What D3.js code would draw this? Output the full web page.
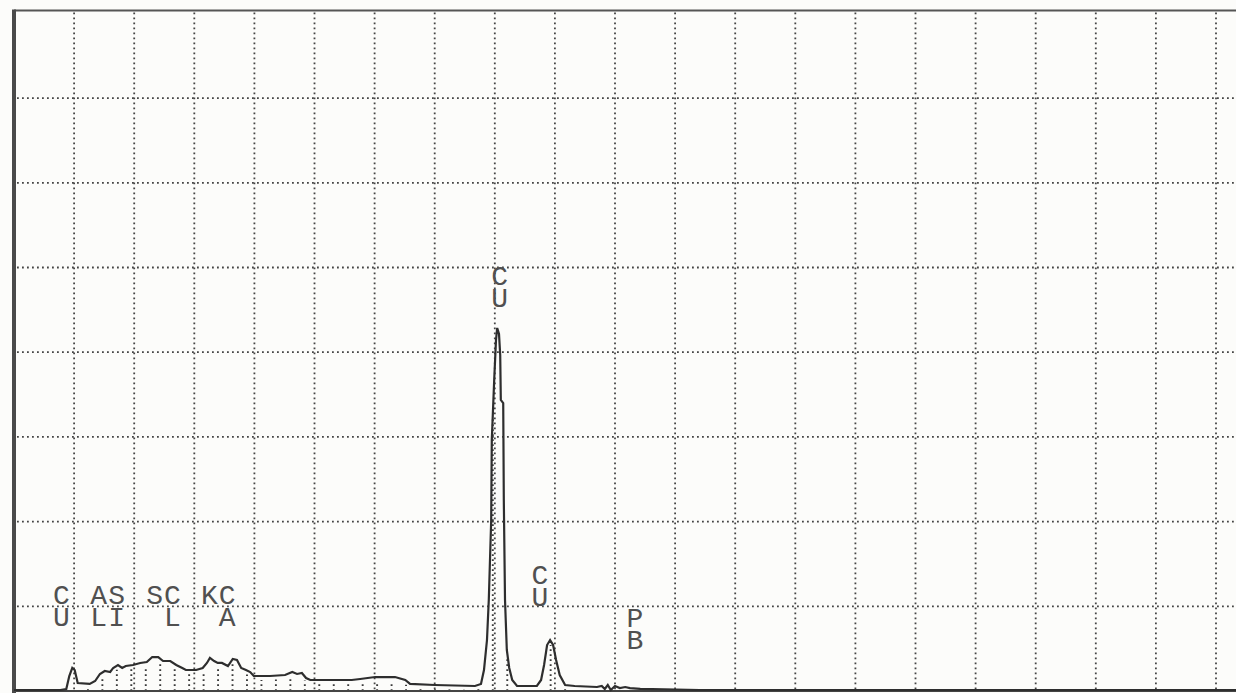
<!DOCTYPE html>
<html>
<head>
<meta charset="utf-8">
<script src="https://cdn.jsdelivr.net/npm/d3@7"></script>
<style>
    html, body { margin: 0; padding: 0; background: #fcfcfa; }
    svg { display: block; }
    .peak-label {
        font-family: "Liberation Mono", "DejaVu Sans Mono", monospace;
        font-size: 28px;
        fill: #505050;
        white-space: pre;
        letter-spacing: 1px;
    }
</style>
</head>
<body>
<div id="chart"></div>
<script>
// spectrum, keV vs counts
const energy = [0, 0.77, 0.87, 0.92, 0.97, 1.01, 1.06, 1.26, 1.35, 1.43, 1.51, 1.60, 1.65, 1.73, 1.80, 1.86,
    1.98, 2.10, 2.21, 2.30, 2.40, 2.48, 2.60, 2.70, 2.80, 2.86, 3.03, 3.14, 3.21, 3.26, 3.33, 3.39, 3.46,
    3.56, 3.64, 3.71, 3.78, 3.86, 3.93, 3.99, 4.26, 4.51, 4.63, 4.71, 4.79, 4.86, 4.93, 5.62, 5.76, 6.01,
    6.34, 6.51, 6.59, 7.00, 7.67, 7.77, 7.82, 7.87, 7.90, 7.94, 7.95, 7.99, 8.02, 8.04, 8.07, 8.09, 8.10,
    8.14, 8.15, 8.17, 8.20, 8.24, 8.29, 8.37, 8.70, 8.77, 8.82, 8.87, 8.92, 8.97, 9.02, 9.08, 9.17, 9.33,
    9.70, 9.78, 9.83, 9.88, 9.93, 10.00, 10.08, 10.17, 10.25, 10.42, 11.41, 21];
const counts = [12, 12, 24, 177, 272, 248, 94, 83, 118, 201, 236, 224, 272, 307, 272, 295,
    307, 331, 342, 401, 401, 354, 354, 307, 272, 248, 248, 272, 331, 390, 354, 331, 331,
    295, 378, 366, 272, 248, 224, 177, 177, 189, 224, 201, 213, 153, 130, 130, 142, 165,
    165, 130, 83, 71, 59, 83, 248, 602, 1074, 2019, 2963, 3672, 4144, 4286, 4215, 3967, 3436,
    3400, 2255, 1074, 484, 272, 130, 59, 59, 130, 307, 543, 602, 543, 366, 189, 71, 59,
    47, 59, 24, 71, 12, 59, 35, 47, 35, 24, 12, 12];

// element markers
const labelEnergy = [0.65, 1.27, 2.20, 3.11, 7.94, 8.61, 10.19];
const labelLevel = [1027, 1027, 1027, 1027, 4790, 1263, 756];
const labelTop = ["C", "AS", "SC", "KC", "C", "C", "P"];
const labelBottom = ["U", "LI", " L", " A", "U", "U", "B"];

// grid
const xTicks = d3.range(1, 21);
const yTicks = [1000, 2000, 3000, 4000, 5000, 6000, 7000];

document.addEventListener('DOMContentLoaded', function () {
    const width = 1236;
    const height = 693;
    const margin = { top: 10.5, left: 14, bottom: 691 };

    const svg = d3.select("#chart")
        .append("svg")
        .attr("width", width)
        .attr("height", height);

    const x = d3.scaleLinear()
        .domain([0, 21])
        .range([margin.left, margin.left + 21 * 60.1]);

    const y = d3.scaleLinear()
        .domain([0, 8000])
        .range([margin.bottom, margin.bottom - 8 * 84.7]);

    // dotted grid
    svg.append("g")
        .selectAll("line")
        .data(xTicks)
        .enter().append("line")
        .attr("x1", d => x(d))
        .attr("x2", d => x(d))
        .attr("y1", margin.top + 2)
        .attr("y2", margin.bottom)
        .attr("stroke", "#444")
        .attr("stroke-width", 1.8)
        .attr("stroke-dasharray", "1.8,3.2");

    svg.append("g")
        .selectAll("line")
        .data(yTicks)
        .enter().append("line")
        .attr("x1", margin.left + 3)
        .attr("x2", width)
        .attr("y1", d => y(d))
        .attr("y2", d => y(d))
        .attr("stroke", "#444")
        .attr("stroke-width", 1.8)
        .attr("stroke-dasharray", "1.8,3.2");

    // hatching under the low energy part of the curve
    const curveAt = d3.scaleLinear().domain(energy).range(counts);
    const hatch = d3.range(1.23, 9.8, 0.2406);
    svg.append("g")
        .selectAll("line")
        .data(hatch)
        .enter().append("line")
        .attr("x1", d => x(d))
        .attr("x2", d => x(d))
        .attr("y1", margin.bottom)
        .attr("y2", d => y(curveAt(d)) + 4)
        .attr("stroke", "#3a3a3a")
        .attr("stroke-width", 1.9)
        .attr("stroke-dasharray", "1.8,3.2");

    // frame
    svg.append("line")
        .attr("x1", margin.left).attr("x2", width)
        .attr("y1", margin.top).attr("y2", margin.top)
        .attr("stroke", "#555").attr("stroke-width", 2.2);
    svg.append("line")
        .attr("x1", margin.left).attr("x2", width)
        .attr("y1", margin.bottom).attr("y2", margin.bottom)
        .attr("stroke", "#444").attr("stroke-width", 2.2);
    svg.append("line")
        .attr("x1", margin.left).attr("x2", margin.left)
        .attr("y1", margin.top - 1).attr("y2", height)
        .attr("stroke", "#4a4a4a").attr("stroke-width", 4);

    // spectrum
    const line = d3.line()
        .x((d, i) => x(energy[i]))
        .y(d => y(d));

    svg.append("path")
        .datum(counts)
        .attr("fill", "none")
        .attr("stroke", "#2e2e2e")
        .attr("stroke-width", 2.2)
        .attr("stroke-linejoin", "miter")
        .attr("d", line);

    // element labels, two rows stacked in one text
    const labels = svg.append("g")
        .selectAll("text")
        .data(labelEnergy)
        .enter().append("text")
        .attr("class", "peak-label")
        .attr("transform", (d, i) => `translate(${x(d)},${y(labelLevel[i])})`);

    labels.append("tspan")
        .attr("x", 0)
        .text((d, i) => labelTop[i]);

    labels.append("tspan")
        .attr("x", 0)
        .attr("dy", 22)
        .text((d, i) => labelBottom[i]);
});
</script>
</body>
</html>
